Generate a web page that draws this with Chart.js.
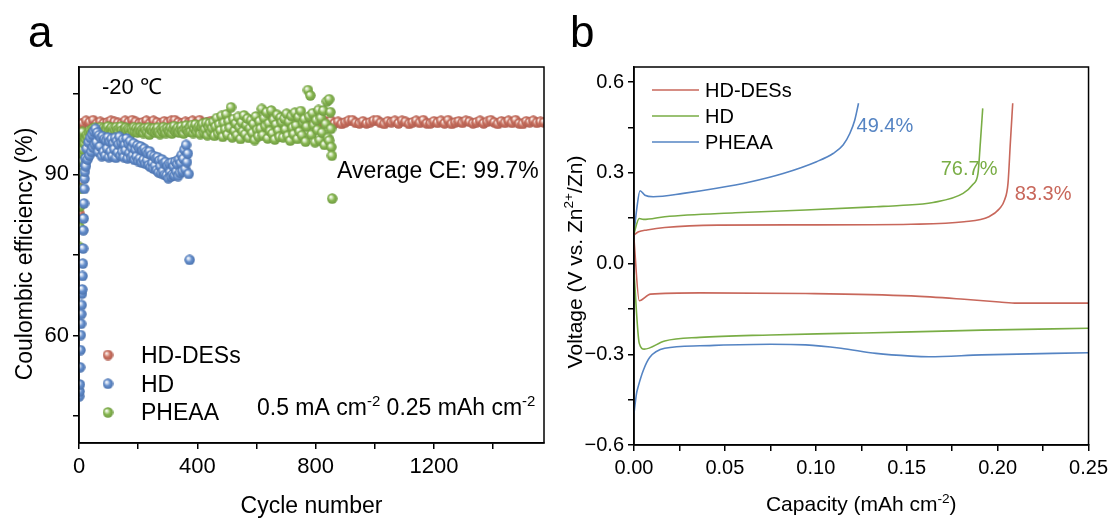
<!DOCTYPE html>
<html>
<head>
<meta charset="utf-8">
<script src="https://cdn.jsdelivr.net/npm/chart.js@4.4.1/dist/chart.umd.min.js"></script>
<style>
  html, body { margin: 0; padding: 0; background: #fff; }
  #wrap { position: relative; width: 1113px; height: 520px; overflow: hidden; }
  canvas { position: absolute; top: 0; }
  #ceChart { left: 0; }
  #vpChart { left: 548px; }
</style>
</head>
<body>
<div id="wrap">
  <canvas id="ceChart" width="560" height="520"></canvas>
  <canvas id="vpChart" width="565" height="520"></canvas>
</div>
<script>
// ---------- panel a : coulombic efficiency vs cycle ----------
const desFirstCycles = [1, 2, 3, 4, 5, 6, 7, 8];
const desFirstCE = [82.8, 87.5, 92.6, 96.0, 97.8, 98.7, 99.2, 99.5];
const desStart = 12, desStep = 12;
const desCE = [
  99.5, 100.0, 99.7, 100.1, 99.4, 99.8, 99.5, 99.7, 100.0, 99.8,
  99.6, 99.4, 100.0, 99.7, 100.1, 99.8, 99.5, 99.7, 100.0, 99.5,
  100.0, 99.7, 99.4, 99.9, 99.6, 100.0, 100.1, 99.7, 99.5, 99.8,
  99.6, 100.0, 99.5, 100.1, 99.4, 99.7, 99.9, 99.6, 100.0, 99.8,
  99.5, 99.7, 100.0, 99.5, 99.8, 100.1, 99.7, 99.4, 99.9, 99.6,
  100.0, 99.5, 100.1, 99.7, 99.4, 99.8, 99.6, 100.0, 99.9, 99.5,
  99.5, 99.9, 99.7, 99.6, 100.1, 99.8, 99.4, 99.7, 100.0, 99.6,
  100.0, 99.5, 99.8, 99.4, 99.7, 100.0, 100.1, 99.6, 99.5, 99.9,
  99.5, 99.7, 100.0, 100.1, 99.6, 99.4, 99.9, 99.7, 100.0, 99.5,
  100.0, 99.8, 99.4, 99.7, 100.0, 99.6, 100.1, 99.5, 99.5, 99.9,
  99.6, 100.0, 99.5, 100.1, 99.4, 99.7, 99.9, 99.6, 100.0, 99.8,
  99.5, 99.7, 100.0, 99.5, 99.8, 100.1, 99.7, 99.4, 99.9, 99.6,
  100.0, 99.6, 100.1, 99.5, 99.4, 99.9, 99.7, 100.0, 99.6, 99.8, 99.7
];

// HD: cycles 1..22, then every 3 cycles from 23
const hdFirstCE = [48.7, 49.6, 50.9, 54.1, 57.3, 60.1, 62.2, 64.0, 65.7, 67.8, 68.6,
  71.1, 73.4, 76.2, 79.6, 81.8, 84.6, 87.3, 89.2, 90.5, 91.8, 93.0];
const hdStart = 23, hdStep = 3;
const hdCE = [
  91.5, 94.8, 92.8, 96.0, 93.5, 96.8, 94.2, 97.4, 95.0, 98.0,
  95.6, 98.5, 96.0, 97.8, 94.2, 97.3, 95.2, 96.8, 93.4, 97.1,
  94.2, 96.6, 93.5, 96.3, 94.8, 96.9, 93.2, 96.1, 94.3, 96.6,
  93.4, 95.8, 94.7, 96.8, 93.1, 96.2, 94.1, 95.6, 97.0, 93.5,
  95.9, 94.2, 96.5, 93.2, 95.5, 94.5, 96.7, 93.0, 95.7, 94.0,
  96.2, 93.1, 94.9, 93.5, 95.8, 92.7, 94.6, 93.3, 95.4, 92.5,
  94.9, 93.0, 95.2, 92.2, 94.5, 92.7, 94.8, 92.0, 94.2, 92.6,
  93.9, 91.7, 94.3, 91.4, 93.6, 92.1, 91.1, 93.4, 91.6, 93.0,
  90.8, 93.2, 90.4, 92.6, 91.5, 90.2, 92.8, 90.6, 92.1, 89.9,
  92.3, 89.8, 91.6, 89.3, 92.0, 90.4, 89.6, 92.2, 90.0, 91.5,
  89.8, 92.4, 90.5, 91.9, 89.7, 92.8, 90.3, 92.1, 93.6, 90.6,
  92.9, 94.6, 91.0, 95.5, 92.3, 93.9, 90.1
];
const hdLateCycles = [374];
const hdLateCE = [74.1];

// PHEAA: cycles 1..12, then every 4 cycles from 14
const pheaaFirstCE = [76.5, 80.2, 84.0, 87.3, 90.1, 92.4, 94.0, 95.3, 96.2, 96.9, 97.4, 97.9];
const pheaaStart = 14, pheaaStep = 4;
const pheaaCE = [
  94.6, 95.8, 96.6, 97.3, 97.0, 97.8, 98.2, 97.6, 98.5, 98.1,
  98.7, 98.0, 98.5, 97.8, 98.4, 98.8, 98.2, 98.6, 97.9, 98.5,
  98.3, 98.9, 98.0, 98.4, 98.7, 97.7, 98.5, 98.2, 98.8, 98.3,
  97.9, 98.6, 98.9, 98.2, 97.6, 98.4, 98.7, 98.1, 98.5, 98.3,
  97.5, 98.4, 98.1, 98.8, 97.9, 98.6, 97.8, 98.3, 98.7, 98.0,
  98.4, 97.7, 98.6, 98.2, 97.9, 98.7, 97.4, 98.3, 98.5, 98.0,
  98.6, 97.8, 98.2, 98.7, 97.9, 97.5, 98.4, 98.0, 98.8, 98.3,
  97.7, 98.6, 98.1, 97.9, 98.7, 97.6, 98.4, 99.0, 98.0, 98.3,
  98.7, 97.8, 98.4, 98.9, 98.1, 97.6, 98.6, 99.1, 98.2, 97.9,
  98.8, 98.0, 99.2, 97.7, 98.5, 99.3, 97.9, 98.6, 99.0, 97.5,
  98.9, 99.4, 97.8, 98.4, 99.6, 97.3, 98.8, 99.5, 97.9, 98.6,
  99.8, 97.2, 98.9, 100.5, 97.6, 99.3, 98.2, 100.9, 97.0, 99.6,
  98.4, 101.2, 97.4, 99.9, 98.7, 102.5, 96.9, 100.3, 98.1, 99.5,
  97.3, 100.7, 98.8, 96.6, 99.7, 98.0, 101.0, 97.5, 99.2, 100.4,
  96.8, 98.6, 100.1, 97.7, 99.4, 96.4, 100.8, 98.3, 97.1, 99.9,
  98.5, 102.2, 97.3, 100.5, 99.0, 101.6, 96.7, 99.5, 98.1, 101.9,
  97.6, 100.2, 96.5, 99.3, 101.1, 98.2, 97.0, 100.6, 99.7, 96.9,
  100.4, 98.4, 101.3, 97.2, 99.8, 96.3, 100.9, 98.7, 97.5, 101.5,
  99.1, 96.6, 100.7, 98.0, 101.8, 97.3, 99.6, 100.3, 96.1, 98.9,
  105.7, 100.8, 104.7, 97.4, 101.4, 99.2, 96.0, 100.1, 98.3, 102.0,
  96.4, 100.5, 97.8, 101.9, 95.5, 99.4, 103.6, 96.8, 104.0, 101.6
];
const pheaaLateCycles = [846, 852, 853, 855, 856];
const pheaaLateCE = [96.3, 98.5, 95.1, 93.5, 85.5];

const cycleTicks = [0, 200, 400, 600, 800, 1000, 1200, 1400];
const cycleTickLabels = ['0', '', '400', '', '800', '', '1200', ''];
const ceTicks = [45, 60, 75, 90, 105];
const ceTickLabels = ['', '60', '', '90', ''];

// ---------- panel b : voltage profiles ----------
const desChargeCap = [0, 0.0025, 0.0072, 0.0169, 0.0459, 0.0944, 0.1525, 0.1816, 0.1952, 0.2011, 0.2038, 0.2057, 0.2070, 0.2083];
const desChargeV = [0.095, 0.105, 0.111, 0.119, 0.127, 0.128, 0.130, 0.138, 0.155, 0.182, 0.210, 0.265, 0.40, 0.530];
const desDischargeCap = [0, 0.0029, 0.0091, 0.0362, 0.0944, 0.1525, 0.1816, 0.2010, 0.2107, 0.25];
const desDischargeV = [0.08, -0.123, -0.101, -0.097, -0.099, -0.107, -0.118, -0.127, -0.131, -0.131];

const hdChargeCap = [0, 0.0029, 0.0052, 0.0169, 0.0556, 0.0944, 0.1331, 0.1462, 0.1645, 0.1810, 0.1865, 0.1892, 0.1905, 0.1918];
const hdChargeV = [0.10, 0.149, 0.146, 0.155, 0.168, 0.177, 0.188, 0.192, 0.202, 0.232, 0.262, 0.298, 0.40, 0.513];
const hdDischargeCap = [0, 0.0029, 0.0056, 0.0169, 0.0362, 0.0750, 0.1138, 0.1525, 0.1913, 0.25];
const hdDischargeV = [-0.03, -0.264, -0.283, -0.256, -0.244, -0.236, -0.231, -0.226, -0.220, -0.214];

const pheaaChargeCap = [0, 0.0015, 0.0033, 0.0060, 0.0106, 0.0271, 0.0454, 0.0637, 0.0820, 0.1004, 0.1095, 0.1150, 0.1187, 0.1214, 0.1235];
const pheaaChargeV = [0.10, 0.18, 0.241, 0.226, 0.221, 0.232, 0.249, 0.270, 0.298, 0.337, 0.364, 0.392, 0.430, 0.474, 0.530];
const pheaaDischargeCap = [0, 0.0014, 0.0023, 0.0052, 0.0087, 0.0169, 0.0362, 0.0750, 0.0944, 0.1138, 0.1331, 0.1525, 0.1622, 0.1913, 0.25];
const pheaaDischargeV = [-0.495, -0.429, -0.407, -0.352, -0.310, -0.280, -0.272, -0.267, -0.269, -0.280, -0.297, -0.306, -0.308, -0.302, -0.295];

const profileCE = ['83.3%', '76.7%', '49.4%'];

const capTicks = [0, 0.025, 0.05, 0.075, 0.1, 0.125, 0.15, 0.175, 0.2, 0.225, 0.25];
const capTickLabels = ['0.00', '', '0.05', '', '0.10', '', '0.15', '', '0.20', '', '0.25'];
const voltTicks = [-0.6, -0.45, -0.3, -0.15, 0, 0.15, 0.3, 0.45, 0.6];
const voltTickLabels = ['\u22120.6', '', '\u22120.3', '', '0.0', '', '0.3', '', '0.6'];

// ---------- helpers ----------
const FONT = '"Liberation Sans", Arial, sans-serif';
Chart.defaults.font.family = FONT;
Chart.defaults.color = '#000';

const RED = '#c8675b', GREEN = '#79ad45', BLUE = '#5584c3';

function seq(start, step, values) {
  return values.map((v, i) => ({ x: start + i * step, y: v }));
}
function pairs(xs, ys) {
  return xs.map((x, i) => ({ x: x, y: ys[i] }));
}

// small shaded ball used as the scatter marker
function sphere(hi, base, edge) {
  const c = document.createElement('canvas');
  c.width = 11; c.height = 11;
  const g = c.getContext('2d');
  const grad = g.createRadialGradient(3.8, 3.6, 0.2, 5.5, 5.5, 5.3);
  grad.addColorStop(0, '#ffffff');
  grad.addColorStop(0.2, hi);
  grad.addColorStop(0.55, base);
  grad.addColorStop(1, edge);
  g.fillStyle = grad;
  g.beginPath();
  g.arc(5.5, 5.5, 5.2, 0, Math.PI * 2);
  g.fill();
  return c;
}
const redBall = sphere('#eecbc2', '#c9705f', '#b05d50');
const blueBall = sphere('#d5e1f3', '#648ecc', '#4c73ae');
const greenBall = sphere('#dcecc9', '#88b752', '#6e9a40');

// text with optional superscript pieces
function richText(ctx, parts, x, y, size, align) {
  let w = 0;
  parts.forEach(p => {
    ctx.font = (p.sup ? size * 0.65 : size) + 'px ' + FONT;
    w += ctx.measureText(p.t).width;
  });
  let cx = align === 'center' ? x - w / 2 : x;
  ctx.textAlign = 'left';
  ctx.textBaseline = 'alphabetic';
  parts.forEach(p => {
    ctx.font = (p.sup ? size * 0.65 : size) + 'px ' + FONT;
    ctx.fillText(p.t, cx, p.sup ? y - size * 0.4 : y);
    cx += ctx.measureText(p.t).width;
  });
}
function vertText(ctx, parts, cx, cy, size) {
  ctx.save();
  ctx.translate(cx, cy);
  ctx.rotate(-Math.PI / 2);
  richText(ctx, parts, 0, size * 0.36, size, 'center');
  ctx.restore();
}

// closes the box on the top and right
const frame = {
  id: 'frame',
  afterDatasetsDraw(chart) {
    const { ctx, chartArea: a } = chart;
    ctx.save();
    ctx.strokeStyle = '#000';
    ctx.lineWidth = 1.5;
    ctx.strokeRect(a.left, a.top, a.right - a.left, a.bottom - a.top);
    ctx.restore();
  }
};

function axisX(min, max, ticks, labels, size, height) {
  return {
    type: 'linear', min: min, max: max,
    afterBuildTicks: s => { s.ticks = ticks.map(v => ({ value: v })); },
    afterFit: s => { s.height = height; },
    ticks: { callback: (v, i) => labels[i], font: { size: size }, color: '#000', padding: 5, maxRotation: 0, autoSkip: false },
    grid: { drawOnChartArea: false, tickLength: 6, color: '#000', lineWidth: 1.5 },
    border: { color: '#000', width: 1.5 }
  };
}
function axisY(min, max, ticks, labels, size, width) {
  return {
    type: 'linear', min: min, max: max,
    afterBuildTicks: s => { s.ticks = ticks.map(v => ({ value: v })); },
    afterFit: s => { s.width = width; },
    ticks: { callback: (v, i) => labels[i], font: { size: size }, color: '#000', padding: 4, autoSkip: false },
    grid: { drawOnChartArea: false, tickLength: 6, color: '#000', lineWidth: 1.5 },
    border: { color: '#000', width: 1.5 }
  };
}

// ---------- chart a ----------
const ceText = {
  id: 'ceText',
  afterDraw(chart) {
    const ctx = chart.ctx;
    ctx.save();
    ctx.fillStyle = '#000';
    richText(ctx, [{ t: 'a' }], 28, 47, 44, 'left');
    richText(ctx, [{ t: '-20 \u2103' }], 102, 94, 22, 'left');
    richText(ctx, [{ t: 'Average CE: 99.7%' }], 337, 178, 23, 'left');
    richText(ctx, [{ t: '0.5 mA cm' }, { t: '-2', sup: true }, { t: ' 0.25 mAh cm' }, { t: '-2', sup: true }], 257, 415, 23, 'left');
    richText(ctx, [{ t: 'Cycle number' }], (chart.chartArea.left + chart.chartArea.right) / 2, 513, 23, 'center');
    vertText(ctx, [{ t: 'Coulombic efficiency (%)' }], 24, 254, 23);

    // legend
    const items = [['HD-DESs', redBall], ['HD', blueBall], ['PHEAA', greenBall]];
    items.forEach((it, i) => {
      const y = 355 + i * 28.7;
      ctx.drawImage(it[1], 108 - 5.5, y - 5.5);
      ctx.fillStyle = '#000';
      richText(ctx, [{ t: it[0] }], 141, y + 8, 23, 'left');
    });
    ctx.restore();
  }
};

new Chart(document.getElementById('ceChart'), {
  type: 'scatter',
  data: {
    datasets: [
      {
        label: 'HD',
        data: seq(1, 1, hdFirstCE).concat(seq(hdStart, hdStep, hdCE), pairs(hdLateCycles, hdLateCE)),
        pointStyle: blueBall, pointRadius: 5, order: 0
      },
      {
        label: 'PHEAA',
        data: seq(1, 1, pheaaFirstCE).concat(seq(pheaaStart, pheaaStep, pheaaCE), pairs(pheaaLateCycles, pheaaLateCE)),
        pointStyle: greenBall, pointRadius: 5, order: 1
      },
      {
        label: 'HD-DESs',
        data: pairs(desFirstCycles, desFirstCE).concat(seq(desStart, desStep, desCE)),
        pointStyle: redBall, pointRadius: 5, order: 2
      }
    ]
  },
  options: {
    animation: false,
    responsive: false,
    devicePixelRatio: 1,
    layout: { padding: { left: 0, right: 16, top: 67, bottom: 0 } },
    plugins: { legend: { display: false }, tooltip: { enabled: false } },
    scales: {
      x: axisX(0, 1572, cycleTicks, cycleTickLabels, 22, 77),
      y: axisY(40, 110, ceTicks, ceTickLabels, 22, 79)
    }
  },
  plugins: [frame, ceText]
});

// ---------- chart b ----------
const vpText = {
  id: 'vpText',
  afterDraw(chart) {
    const ctx = chart.ctx;
    const xs = chart.scales.x, ys = chart.scales.y;
    ctx.save();
    ctx.fillStyle = '#000';
    richText(ctx, [{ t: 'b' }], 22, 47, 44, 'left');
    richText(ctx, [{ t: 'Capacity (mAh cm' }, { t: '-2', sup: true }, { t: ')' }],
      (chart.chartArea.left + chart.chartArea.right) / 2, 511, 21, 'center');
    vertText(ctx, [{ t: 'Voltage (V vs. Zn' }, { t: '2+', sup: true }, { t: '/Zn)' }], 26, 262, 21);

    // coulombic efficiency of each profile, next to the end of its charge curve
    const tags = [
      [profileCE[0], RED, desChargeCap, 2, 0.233],
      [profileCE[1], GREEN, hdChargeCap, -42, 0.316],
      [profileCE[2], BLUE, pheaaChargeCap, -2, 0.458]
    ];
    tags.forEach(t => {
      const endCap = t[2][t[2].length - 1];
      ctx.fillStyle = t[1];
      richText(ctx, [{ t: t[0] }], xs.getPixelForValue(endCap) + t[3], ys.getPixelForValue(t[4]) + 7, 20, 'left');
    });

    // legend
    const items = [['HD-DESs', RED], ['HD', GREEN], ['PHEAA', BLUE]];
    items.forEach((it, i) => {
      const y = 90 + i * 26;
      ctx.strokeStyle = it[1];
      ctx.lineWidth = 1.5;
      ctx.beginPath();
      ctx.moveTo(104, y);
      ctx.lineTo(151, y);
      ctx.stroke();
      ctx.fillStyle = '#000';
      richText(ctx, [{ t: it[0] }], 157, y + 7, 20, 'left');
    });
    ctx.restore();
  }
};

function profile(label, color, caps, volts) {
  return {
    label: label,
    data: pairs(caps, volts),
    showLine: true,
    borderColor: color,
    borderWidth: 1.6,
    pointRadius: 0,
    cubicInterpolationMode: 'monotone',
    fill: false
  };
}

new Chart(document.getElementById('vpChart'), {
  type: 'scatter',
  data: {
    datasets: [
      profile('HD-DESs', RED, desChargeCap, desChargeV),
      profile('HD-DESs', RED, desDischargeCap, desDischargeV),
      profile('HD', GREEN, hdChargeCap, hdChargeV),
      profile('HD', GREEN, hdDischargeCap, hdDischargeV),
      profile('PHEAA', BLUE, pheaaChargeCap, pheaaChargeV),
      profile('PHEAA', BLUE, pheaaDischargeCap, pheaaDischargeV)
    ]
  },
  options: {
    animation: false,
    responsive: false,
    devicePixelRatio: 1,
    layout: { padding: { left: 0, right: 24, top: 67, bottom: 0 } },
    plugins: { legend: { display: false }, tooltip: { enabled: false } },
    scales: {
      x: axisX(0, 0.25, capTicks, capTickLabels, 20, 75),
      y: axisY(-0.6, 0.65, voltTicks, voltTickLabels, 20, 86)
    }
  },
  plugins: [frame, vpText]
});
</script>
</body>
</html>
